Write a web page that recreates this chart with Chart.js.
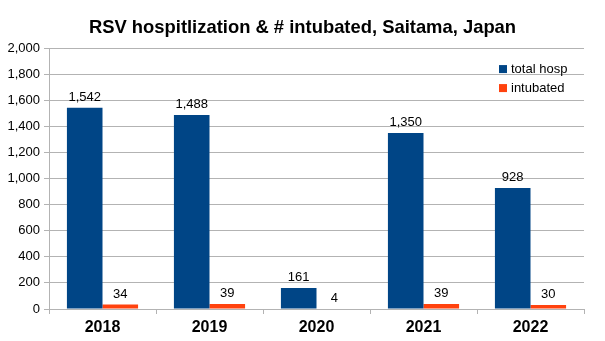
<!DOCTYPE html>
<html>
<head>
<meta charset="utf-8">
<script src="https://cdn.jsdelivr.net/npm/chart.js@4"></script>
<style>
  html, body { margin: 0; padding: 0; background: #fff; }
  #wrap { width: 605px; height: 341px; }
</style>
</head>
<body>
<div id="wrap"><canvas id="rsvChart" width="605" height="341"></canvas></div>
<script>
const years = ["2018", "2019", "2020", "2021", "2022"];
const totalHosp = [1542, 1488, 161, 1350, 928];
const intubated = [34, 39, 4, 39, 30];
const yTicks = [0, 200, 400, 600, 800, 1000, 1200, 1400, 1600, 1800, 2000];

const gridGray = "#b3b3b3";
const font = "'Liberation Sans', Arial, sans-serif";
const titleText = "RSV hospitlization & # intubated, Saitama, Japan";
const titleSize = 18.4;

// values above the bars
const barLabels = {
  id: "barLabels",
  afterDatasetsDraw(chart) {
    const ctx = chart.ctx;
    ctx.save();
    ctx.font = "13px " + font;
    ctx.fillStyle = "#000";
    ctx.textAlign = "center";
    ctx.textBaseline = "bottom";
    chart.data.datasets.forEach((ds, i) => {
      chart.getDatasetMeta(i).data.forEach((bar, j) => {
        ctx.fillText(ds.data[j].toLocaleString("en-US"), bar.x, bar.y - 4);
      });
    });
    ctx.restore();
  },
};

// legend drawn inside the plot, top right, and title centred on the canvas
const insideLegend = {
  id: "insideLegend",
  afterDraw(chart) {
    const ctx = chart.ctx;
    ctx.save();
    ctx.font = "bold " + titleSize + "px " + font;
    ctx.fillStyle = "#000";
    ctx.textAlign = "center";
    ctx.textBaseline = "middle";
    const tb = chart.titleBlock;
    ctx.fillText(titleText, chart.width / 2, tb.top + 17 + (titleSize * 1.2) / 2);

    const x = chart.chartArea.right - 85;
    let y = chart.chartArea.top + 21;
    ctx.font = "13px " + font;
    ctx.textAlign = "left";
    chart.data.datasets.forEach((ds) => {
      ctx.fillStyle = ds.backgroundColor;
      ctx.fillRect(x, y - 4, 8, 8);
      ctx.fillStyle = "#000";
      ctx.fillText(ds.label, x + 12, y);
      y += 19;
    });
    ctx.restore();
  },
};

new Chart(document.getElementById("rsvChart"), {
  type: "bar",
  data: {
    labels: years,
    datasets: [
      {
        label: "total hosp",
        data: totalHosp,
        backgroundColor: "#004586",
        categoryPercentage: 0.665,
        barPercentage: 1.0,
      },
      {
        label: "intubated",
        data: intubated,
        backgroundColor: "#ff420e",
        categoryPercentage: 0.665,
        barPercentage: 1.0,
      },
    ],
  },
  options: {
    responsive: false,
    animation: false,
    layout: { padding: { left: 0, right: 21, top: 0, bottom: 0 } },
    plugins: {
      legend: { display: false },
      tooltip: { enabled: false },
      title: {
        display: true,
        text: titleText,
        color: "rgba(0,0,0,0)",
        font: { family: font, size: titleSize, weight: "bold" },
        padding: { top: 17, bottom: 9 },
      },
    },
    scales: {
      x: {
        offset: true,
        afterFit(scale) { scale.height = 32; },
        grid: {
          offset: true,
          drawOnChartArea: true,
          color: (c) => (c.index === years.length ? gridGray : "rgba(0,0,0,0)"),
          tickColor: gridGray,
          tickLength: 5,
        },
        border: { display: true, color: gridGray },
        ticks: {
          color: "#000",
          padding: 4,
          font: { family: font, size: 16, weight: "bold" },
        },
      },
      y: {
        min: 0,
        max: 2000,
        afterFit(scale) { scale.width = 49; },
        afterBuildTicks(scale) { scale.ticks = yTicks.map((v) => ({ value: v })); },
        grid: { color: gridGray, tickColor: gridGray, tickLength: 5 },
        border: { display: true, color: gridGray },
        ticks: {
          color: "#000",
          padding: 4,
          font: { family: font, size: 13 },
          callback: (v) => v.toLocaleString("en-US"),
        },
      },
    },
  },
  plugins: [barLabels, insideLegend],
});
</script>
</body>
</html>
